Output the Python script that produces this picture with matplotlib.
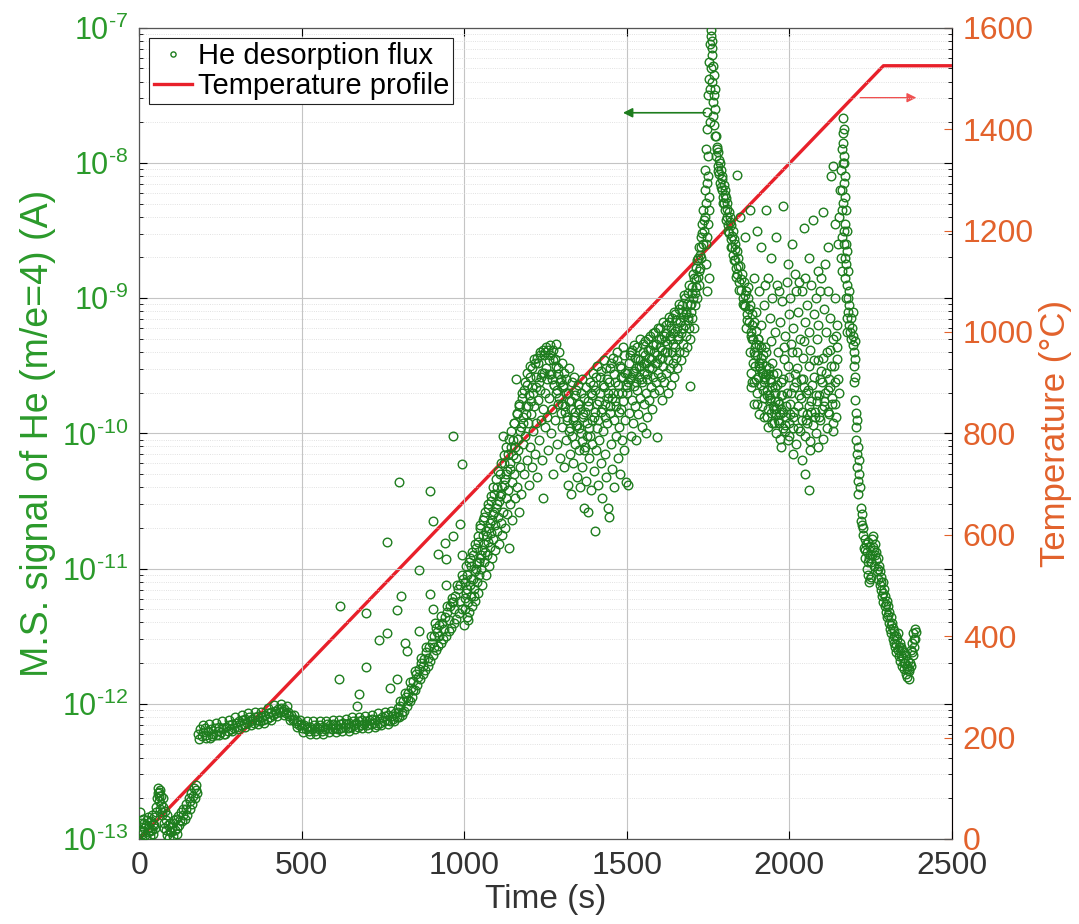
import numpy as np
import matplotlib
matplotlib.use("Agg")
import matplotlib.pyplot as plt
from matplotlib.ticker import LogLocator, NullFormatter, MultipleLocator, FuncFormatter

plt.rcParams['font.family'] = ['Liberation Sans', 'DejaVu Sans']
plt.rcParams['mathtext.fontset'] = 'custom'
plt.rcParams['mathtext.rm'] = 'Liberation Sans'
plt.rcParams['mathtext.default'] = 'regular'
plt.rcParams['axes.unicode_minus'] = False

# He desorption flux: time (s) and log10 of signal (A)
# start-up noise near the 1e-13 floor
t_start = [2, 5, 8, 11, 14, 17, 20, 23, 26, 29, 32, 35, 38, 41, 44, 47, 50, 53, 56, 58,
           60, 62, 64, 66, 68, 70, 72, 75, 78, 81, 84, 87, 90, 93, 96, 99, 102, 105, 108, 111,
           114, 117, 120, 124, 128, 132, 136, 140, 144, 148, 152, 156, 160, 164, 168, 172, 176, 179,
           4, 10, 16, 22, 28, 34, 40, 46, 52, 57, 61, 65, 69, 73, 77, 85, 95, 105, 115, 125,
           135, 145, 155, 165, 175]
v_start = [-12.93, -12.88, -12.96, -12.85, -12.92, -12.97, -12.90, -12.86, -12.95, -12.91,
           -12.98, -12.87, -12.93, -12.89, -12.96, -12.84, -12.92, -12.80, -12.70, -12.66,
           -12.72, -12.65, -12.78, -12.68, -12.74, -12.82, -12.70, -12.88, -12.79, -12.93,
           -12.86, -12.97, -12.90, -12.99, -12.88, -12.95, -12.91, -12.98, -12.86, -12.93,
           -12.85, -12.96, -12.83, -12.90, -12.80, -12.87, -12.78, -12.85, -12.74, -12.82,
           -12.70, -12.78, -12.66, -12.74, -12.62, -12.70, -12.60, -12.66,
           -12.80, -12.95, -12.88, -12.99, -12.84, -12.94, -12.82, -12.90, -12.76, -12.62,
           -12.68, -12.64, -12.80, -12.76, -12.92, -12.82, -12.94, -12.88, -12.92, -12.86,
           -12.82, -12.78, -12.72, -12.68, -12.64]

# plateau band 180-800 s
t_plateau = [182, 187, 192, 197, 202, 207, 212, 217, 222, 227, 232, 237, 242, 247, 252, 257,
             262, 267, 272, 277, 282, 287, 292, 297, 302, 307, 312, 317, 322, 327, 332, 337,
             342, 347, 352, 357, 362, 367, 372, 377, 382, 387, 392, 397, 402, 407, 412, 417,
             422, 427, 432, 437, 442, 447, 452, 457, 462, 467, 472, 477, 482, 487, 492, 497,
             502, 507, 512, 517, 522, 527, 532, 537, 542, 547, 552, 557, 562, 567, 572, 577,
             582, 587, 592, 597, 602, 607, 612, 617, 622, 627, 632, 637, 642, 647, 652, 657,
             662, 667, 672, 677, 682, 687, 692, 697, 702, 707, 712, 717, 722, 727, 732, 737,
             742, 747, 752, 757, 762, 767, 772, 777, 782, 787, 792, 797,
             185, 195, 205, 215, 225, 235, 245, 255, 265, 275, 285, 295, 305, 315, 325, 335,
             345, 355, 365, 375, 385, 395, 405, 415, 425, 435, 445, 455, 465, 475, 485, 495,
             505, 515, 525, 535, 545, 555, 565, 575, 585, 595, 605, 615, 625, 635, 645, 655,
             665, 675, 685, 695, 705, 715, 725, 735, 745, 755, 765, 775, 785, 795]
v_plateau = [-12.22, -12.19, -12.24, -12.21, -12.18, -12.23, -12.20, -12.25, -12.19, -12.22,
             -12.18, -12.23, -12.20, -12.17, -12.21, -12.18, -12.22, -12.17, -12.20, -12.16,
             -12.19, -12.15, -12.18, -12.14, -12.17, -12.13, -12.16, -12.12, -12.15, -12.11,
             -12.14, -12.10, -12.13, -12.11, -12.14, -12.10, -12.12, -12.09, -12.13, -12.10,
             -12.12, -12.08, -12.11, -12.07, -12.10, -12.06, -12.08, -12.05, -12.07, -12.04,
             -12.06, -12.03, -12.05, -12.04, -12.07, -12.06, -12.09, -12.08, -12.12, -12.11,
             -12.14, -12.13, -12.16, -12.15, -12.18, -12.16, -12.19, -12.17, -12.20, -12.17,
             -12.19, -12.16, -12.20, -12.17, -12.19, -12.16, -12.20, -12.17, -12.19, -12.15,
             -12.18, -12.16, -12.19, -12.15, -12.18, -12.16, -12.19, -12.15, -12.18, -12.14,
             -12.17, -12.15, -12.18, -12.14, -12.17, -12.13, -12.16, -12.14, -12.17, -12.13,
             -12.16, -12.12, -12.15, -12.13, -12.16, -12.12, -12.15, -12.11, -12.14, -12.12,
             -12.16, -12.11, -12.14, -12.10, -12.13, -12.09, -12.12, -12.08, -12.13, -12.09,
             -12.11, -12.07, -12.10, -12.06,
             -12.26, -12.16, -12.25, -12.15, -12.24, -12.14, -12.23, -12.13, -12.22, -12.12,
             -12.20, -12.10, -12.19, -12.08, -12.17, -12.07, -12.16, -12.06, -12.15, -12.06,
             -12.14, -12.03, -12.12, -12.01, -12.09, -12.00, -12.08, -12.02, -12.12, -12.08,
             -12.17, -12.12, -12.21, -12.13, -12.22, -12.13, -12.22, -12.13, -12.22, -12.13,
             -12.21, -12.12, -12.21, -12.12, -12.20, -12.11, -12.20, -12.10, -12.19, -12.10,
             -12.18, -12.09, -12.18, -12.08, -12.17, -12.07, -12.16, -12.06, -12.15, -12.05,
             -12.13, -12.03]

# rising band 800-1000 s
t_rise = [800, 804, 808, 812, 816, 820, 824, 828, 832, 836, 840, 844, 848, 852, 856, 860,
          864, 868, 872, 876, 880, 884, 888, 892, 896, 900, 904, 908, 912, 916, 920, 924,
          928, 932, 936, 940, 944, 948, 952, 956, 960, 964, 968, 972, 976, 980, 984, 988,
          992, 996,
          802, 810, 818, 826, 834, 842, 850, 858, 866, 874, 882, 890, 898, 906, 914, 922,
          930, 938, 946, 954, 962, 970, 978, 986, 994]
v_rise = [-12.10, -12.02, -12.08, -11.98, -12.05, -11.95, -12.02, -11.92, -11.98, -11.88,
          -11.95, -11.83, -11.90, -11.78, -11.86, -11.74, -11.82, -11.70, -11.78, -11.67,
          -11.75, -11.62, -11.72, -11.58, -11.68, -11.55, -11.64, -11.50, -11.60, -11.47,
          -11.57, -11.42, -11.55, -11.40, -11.52, -11.36, -11.50, -11.32, -11.46, -11.28,
          -11.44, -11.25, -11.40, -11.20, -11.37, -11.15, -11.33, -11.12, -11.30, -11.08,
          -11.98, -12.06, -11.92, -11.97, -11.84, -11.90, -11.76, -11.80, -11.66, -11.72,
          -11.58, -11.66, -11.50, -11.58, -11.44, -11.50, -11.35, -11.45, -11.28, -11.38,
          -11.22, -11.30, -11.12, -11.24, -11.05]

# isolated points above the band
t_stray = [618, 614, 677, 671, 698, 698, 739, 764, 764, 800, 794, 794, 772, 818, 824, 861,
           861, 806, 895, 904, 895, 919, 944, 944, 904, 993, 987, 966, 941, 993, 966, 910, 965]
v_stray = [-11.28, -11.82, -11.93, -12.02, -11.73, -11.33, -11.53, -11.48, -10.80, -10.36,
           -11.31, -11.82, -11.88, -11.55, -11.61, -11.46, -11.01, -11.20, -10.43, -10.65,
           -11.19, -10.89, -10.93, -11.12, -11.30, -10.23, -10.67, -10.76, -10.81, -10.90,
           -11.25, -11.40, -10.02]

# broad cloud 1000-1500 s
t_cloud = [1000, 1002, 1004, 1006, 1008, 1010, 1012, 1014, 1016, 1018, 1020, 1022, 1024, 1026,
           1028, 1030, 1032, 1034, 1036, 1038, 1040, 1042, 1044, 1046, 1048, 1050, 1052, 1054,
           1056, 1058, 1060, 1062, 1064, 1066, 1068, 1070, 1072, 1074, 1076, 1078, 1080, 1082,
           1084, 1086, 1088, 1090, 1092, 1094, 1096, 1098, 1100, 1102, 1104, 1106, 1108, 1110,
           1112, 1114, 1116, 1118, 1120, 1122, 1124, 1126, 1128, 1130, 1132, 1134, 1136, 1138,
           1140, 1142, 1144, 1146, 1148, 1150, 1152, 1154, 1156, 1158, 1160, 1162, 1164, 1166,
           1168, 1170, 1172, 1174, 1176, 1178, 1180, 1182, 1184, 1186, 1188, 1190, 1192, 1194,
           1196, 1198, 1200, 1202, 1204, 1206, 1208, 1210, 1212, 1214, 1216, 1218, 1220, 1222,
           1224, 1226, 1228, 1230, 1232, 1234, 1236, 1238, 1240, 1242, 1244, 1246, 1248, 1250,
           1252, 1254, 1256, 1258, 1260, 1262, 1264, 1266, 1268, 1270, 1272, 1274, 1276, 1278,
           1280, 1282, 1284, 1286, 1288, 1290, 1292, 1294, 1296, 1298, 1300, 1302, 1304, 1306,
           1308, 1310, 1312, 1314, 1316, 1318, 1320, 1322, 1324, 1326, 1328, 1330, 1332, 1334,
           1336, 1338, 1340, 1342, 1344, 1346, 1348, 1350, 1352, 1354, 1356, 1358, 1360, 1362,
           1364, 1366, 1368, 1370, 1372, 1374, 1376, 1378, 1380, 1382, 1384, 1386, 1388, 1390,
           1392, 1394, 1396, 1398, 1400, 1402, 1404, 1406, 1408, 1410, 1412, 1414, 1416, 1418,
           1420, 1422, 1424, 1426, 1428, 1430, 1432, 1434, 1436, 1438, 1440, 1442, 1444, 1446,
           1448, 1450, 1452, 1454, 1456, 1458, 1460, 1462, 1464, 1466, 1468, 1470, 1472, 1474,
           1476, 1478, 1480, 1482, 1484, 1486, 1488, 1490, 1492, 1494, 1496, 1498, 1500,
           1001, 1005, 1009, 1013, 1017, 1021, 1025, 1029, 1033, 1037, 1041, 1045, 1049, 1053,
           1057, 1061, 1065, 1069, 1073, 1077, 1081, 1085, 1089, 1093, 1097, 1101, 1105, 1109,
           1113, 1117, 1121, 1125, 1129, 1133, 1137, 1141, 1145, 1149, 1153, 1157, 1161, 1165,
           1169, 1173, 1177, 1181, 1185, 1189, 1193, 1197, 1201, 1205, 1209, 1213, 1217, 1221,
           1225, 1229, 1233, 1237, 1241, 1245, 1249, 1253, 1257, 1261, 1265, 1269, 1273, 1277,
           1281, 1285, 1289, 1293, 1297, 1301, 1305, 1309, 1313, 1317, 1321, 1325, 1329, 1333,
           1337, 1341, 1345, 1349, 1353, 1357, 1361, 1365, 1369, 1373, 1377, 1381, 1385, 1389,
           1393, 1397, 1401, 1405, 1409, 1413, 1417, 1421, 1425, 1429, 1433, 1437, 1441, 1445,
           1449, 1453, 1457, 1461, 1465, 1469, 1473, 1477, 1481, 1485, 1489, 1493, 1497]
v_cloud = [-11.42, -11.10, -11.30, -11.18, -11.36, -11.05, -11.25, -10.95, -11.32, -11.12,
           -11.20, -10.98, -11.28, -11.08, -10.90, -11.15, -11.02, -11.24, -10.85, -11.10,
           -10.96, -11.18, -10.80, -11.05, -10.92, -10.70, -11.00, -10.86, -11.12, -10.75,
           -10.95, -10.62, -10.88, -11.05, -10.72, -10.90, -10.55, -10.80, -10.98, -10.66,
           -10.84, -10.50, -10.74, -10.92, -10.60, -10.78, -10.45, -10.68, -10.86, -10.55,
           -10.72, -10.40, -10.62, -10.82, -10.50, -10.30, -10.66, -10.45, -10.75, -10.02,
           -10.58, -10.38, -10.22, -10.70, -10.48, -10.30, -10.60, -10.15, -10.42, -10.85,
           -10.26, -10.52, -10.10, -10.36, -10.64, -10.05, -10.30, -9.92, -10.48, -10.18,
           -9.60, -10.40, -9.85, -10.12, -10.58, -9.78, -10.25, -9.95, -10.45, -9.70,
           -10.08, -9.88, -10.30, -9.62, -10.02, -9.80, -10.20, -9.55, -9.92, -10.38,
           -9.72, -10.10, -9.50, -9.86, -10.25, -9.66, -9.98, -9.45, -9.80, -10.15,
           -9.58, -9.92, -10.32, -9.48, -9.75, -10.05, -9.40, -9.68, -9.90, -10.20,
           -9.55, -9.82, -10.48, -9.42, -9.70, -9.95, -9.36, -9.60, -9.88, -10.12,
           -9.46, -9.74, -9.35, -10.00, -9.56, -9.82, -9.38, -10.30, -9.64, -9.45,
           -9.90, -9.34, -9.70, -10.08, -9.52, -9.78, -9.40, -10.18, -9.62, -9.85,
           -9.48, -9.95, -9.66, -10.25, -9.55, -9.80, -10.05, -9.60, -9.88, -10.38,
           -9.70, -9.98, -9.52, -10.15, -9.76, -10.45, -9.62, -9.90, -10.22, -9.58,
           -9.84, -10.08, -9.68, -10.32, -9.94, -9.64, -10.12, -9.78, -10.40, -9.70,
           -10.00, -9.60, -10.25, -9.86, -10.55, -9.74, -10.10, -9.66, -10.35, -9.92,
           -10.58, -9.80, -10.18, -9.62, -10.02, -10.42, -9.72, -10.08, -9.55, -10.28,
           -9.88, -10.72, -9.68, -10.12, -9.50, -9.96, -10.38, -9.76, -10.05, -9.58,
           -10.22, -9.84, -10.48, -9.64, -9.98, -9.46, -10.15, -9.78, -10.32, -9.60,
           -9.92, -10.55, -9.70, -10.62, -9.85, -9.52, -10.08, -9.74, -10.26, -9.44,
           -9.90, -10.40, -9.62, -10.02, -9.80, -9.40, -10.18, -9.70, -9.95, -9.50,
           -10.30, -9.82, -9.58, -10.05, -9.36, -9.76, -10.12, -9.55, -9.90, -10.36,
           -9.66,
           -11.22, -10.98, -11.15, -11.38, -10.92, -11.08, -10.88, -11.20, -10.82, -11.00,
           -10.76, -10.95, -10.68, -10.90, -10.64, -10.82, -10.58, -10.76, -10.52, -10.70,
           -10.46, -10.64, -10.40, -10.58, -10.34, -10.52, -10.28, -10.46, -10.22, -10.40,
           -10.16, -10.34, -10.10, -10.28, -10.04, -10.22, -9.98, -10.16, -9.92, -10.10,
           -9.86, -10.04, -9.80, -9.98, -9.74, -9.92, -9.68, -9.86, -9.64, -9.80,
           -9.58, -9.76, -9.52, -9.70, -9.48, -9.66, -9.44, -9.62, -9.42, -9.58,
           -9.38, -9.55, -9.40, -9.52, -9.38, -9.56, -9.42, -9.60, -9.46, -9.64,
           -9.50, -9.68, -9.56, -9.74, -9.60, -9.78, -9.64, -9.84, -9.70, -9.90,
           -9.76, -9.96, -9.82, -10.02, -9.88, -9.72, -9.94, -9.78, -9.96, -9.82,
           -10.06, -9.88, -10.12, -9.84, -10.02, -9.76, -9.96, -9.70, -9.90, -9.64,
           -9.84, -9.58, -9.78, -9.90, -9.70, -9.54, -9.82, -9.66, -9.88, -9.52,
           -9.74, -9.62, -9.80, -9.48, -9.70, -9.56, -9.76, -9.46, -9.64, -9.84,
           -9.52, -9.70, -9.58, -9.42, -9.64]

# climb to the main peak 1500-1775 s
t_climb = [1502, 1504, 1506, 1508, 1510, 1512, 1514, 1516, 1518, 1520, 1522, 1524, 1526, 1528,
           1530, 1532, 1534, 1536, 1538, 1540, 1542, 1544, 1546, 1548, 1550, 1552, 1554, 1556,
           1558, 1560, 1562, 1564, 1566, 1568, 1570, 1572, 1574, 1576, 1578, 1580, 1582, 1584,
           1586, 1588, 1590, 1592, 1594, 1596, 1598, 1600, 1602, 1604, 1606, 1608, 1610, 1612,
           1614, 1616, 1618, 1620, 1622, 1624, 1626, 1628, 1630, 1632, 1634, 1636, 1638, 1640,
           1642, 1644, 1646, 1648, 1650, 1652, 1654, 1656, 1658, 1660, 1662, 1664, 1666, 1668,
           1670, 1672, 1674, 1676, 1678, 1680, 1682, 1684, 1686, 1688, 1690, 1692, 1694, 1696,
           1698, 1700, 1702, 1704, 1706, 1708, 1710, 1712, 1714, 1716, 1718, 1720, 1722, 1724,
           1726, 1728, 1730, 1732, 1734, 1736, 1560, 1694,
           1738, 1740, 1741, 1742, 1743, 1744, 1745, 1746, 1747, 1748, 1749, 1750, 1751, 1752,
           1753, 1754, 1755, 1756, 1757, 1758, 1759, 1760, 1761, 1762, 1763, 1764, 1765, 1766,
           1767, 1768, 1769, 1770, 1771, 1772, 1773, 1744, 1748, 1752, 1750, 1754, 1746,
           1501, 1505, 1509, 1513, 1517, 1521, 1525, 1529, 1533, 1537, 1541, 1545, 1549, 1553,
           1557, 1561, 1565, 1569, 1573, 1577, 1581, 1585, 1589, 1593, 1597, 1601, 1605, 1609,
           1613, 1617, 1621, 1625, 1629, 1633, 1637, 1641, 1645, 1649, 1653, 1657, 1661, 1665,
           1669, 1673, 1677, 1681, 1685, 1689, 1693, 1697, 1701, 1705, 1709, 1713, 1717, 1721,
           1725, 1729, 1733, 1737]
v_climb = [-9.70, -10.38, -9.48, -9.85, -9.60, -10.02, -9.40, -9.75, -9.55, -9.92,
           -9.65, -9.35, -9.80, -9.52, -10.05, -9.68, -9.45, -9.86, -9.58, -9.30,
           -9.74, -9.50, -9.95, -9.62, -9.40, -9.78, -9.55, -9.32, -9.70, -9.48,
           -9.88, -9.60, -9.38, -9.75, -9.52, -9.28, -9.66, -9.45, -9.82, -9.58,
           -9.35, -9.70, -9.48, -9.25, -9.62, -10.03, -9.42, -9.55, -9.30, -9.68,
           -9.45, -9.22, -9.58, -9.38, -9.75, -9.50, -9.28, -9.62, -9.40, -9.20,
           -9.55, -9.34, -9.70, -9.46, -9.18, -9.52, -9.30, -9.64, -9.40, -9.15,
           -9.48, -9.26, -9.58, -9.36, -9.12, -9.44, -9.22, -9.52, -9.30, -9.08,
           -9.40, -9.18, -9.46, -9.26, -9.05, -9.34, -9.14, -9.40, -9.20, -9.00,
           -9.28, -9.10, -9.36, -9.16, -8.96, -9.22, -9.05, -9.30, -9.10, -8.92,
           -9.15, -9.00, -9.22, -8.85, -9.05, -8.92, -8.78, -9.00, -8.84, -8.70,
           -8.90, -8.62, -8.78, -8.55, -8.70, -8.45, -8.60, -8.35, -10.00, -9.65,
           -8.50, -8.20, -8.40, -8.05, -8.60, -7.90, -8.30, -7.75, -8.15, -7.62,
           -8.45, -7.50, -7.95, -7.38, -8.25, -7.25, -7.70, -7.12, -7.45, -7.02,
           -7.30, -7.06, -7.20, -7.10, -7.40, -7.15, -7.55, -7.28, -7.65, -7.35,
           -7.50, -7.72, -7.45, -7.80, -7.60, -8.75, -8.55, -8.85, -8.10, -8.35,
           -8.95,
           -9.55, -9.62, -9.42, -9.58, -9.38, -9.54, -9.44, -9.62, -9.36, -9.50,
           -9.46, -9.60, -9.34, -9.48, -9.42, -9.56, -9.30, -9.44, -9.38, -9.52,
           -9.26, -9.40, -9.34, -9.48, -9.22, -9.36, -9.30, -9.44, -9.18, -9.32,
           -9.26, -9.40, -9.14, -9.28, -9.22, -9.34, -9.10, -9.24, -9.16, -9.28,
           -9.04, -9.18, -9.10, -9.22, -8.98, -9.12, -9.04, -9.14, -8.90, -9.04,
           -8.96, -8.82, -8.96, -8.86, -8.72, -8.80, -8.68, -8.62, -8.52, -8.42]

# decay after the main peak 1774-2000 s
t_decay = [1774, 1776, 1778, 1780, 1782, 1784, 1786, 1788, 1790, 1792, 1794, 1796, 1798, 1800,
           1802, 1804, 1806, 1808, 1810, 1812, 1814, 1816, 1818, 1820, 1822, 1824, 1826, 1828,
           1830, 1832, 1834, 1836, 1838, 1840, 1843, 1846, 1849, 1852, 1855, 1858, 1861, 1864,
           1867, 1870, 1873, 1876, 1879, 1882, 1885, 1888, 1891, 1894, 1897, 1900, 1904, 1908,
           1912, 1916, 1920, 1924, 1928, 1932, 1936, 1940, 1945, 1950, 1955, 1960, 1965, 1970,
           1975, 1980, 1990, 2000,
           1777, 1781, 1785, 1789, 1793, 1797, 1801, 1805, 1809, 1813, 1817, 1821, 1825, 1829,
           1833, 1837, 1841, 1845, 1851, 1857, 1863, 1869, 1875, 1881, 1887, 1893, 1899, 1906,
           1914, 1922, 1930, 1938, 1946, 1954]
v_decay = [-7.80, -7.95, -7.88, -8.02, -7.92, -8.08, -8.00, -8.15, -8.05, -8.20,
           -8.12, -8.25, -8.16, -8.30, -8.20, -8.35, -8.26, -8.40, -8.30, -8.46,
           -8.36, -8.52, -8.40, -8.56, -8.46, -8.62, -8.50, -8.68, -8.56, -8.72,
           -8.60, -8.78, -8.65, -8.82, -8.70, -8.88, -8.76, -8.94, -8.82, -9.00,
           -8.88, -9.06, -8.95, -9.12, -9.00, -9.18, -9.05, -9.25, -9.12, -9.30,
           -9.18, -9.36, -9.24, -9.42, -9.30, -9.48, -9.36, -9.55, -9.42, -9.62,
           -9.50, -9.68, -9.56, -9.75, -9.62, -9.80, -9.70, -9.86, -9.76, -9.92,
           -9.82, -9.96, -9.88, -10.02,
           -7.90, -8.06, -7.98, -8.18, -8.10, -8.30, -8.24, -8.42, -8.34, -8.50,
           -8.44, -8.62, -8.54, -8.72, -8.64, -8.84, -8.76, -8.94, -8.86, -9.04,
           -8.98, -9.16, -9.08, -9.28, -9.20, -9.40, -9.34, -9.50, -9.44, -9.60,
           -9.56, -9.72, -9.66, -9.82]

# scattered cloud 1830-2155 s
t_scatter = [1838, 1850, 1865, 1880, 1900, 1912, 1930, 1945, 1960, 1982, 1995, 2010, 2030, 2045,
             2060, 2074, 2088, 2105, 2118, 2130, 2135, 2140, 1925, 1970, 2020, 2095, 2110, 2050,
             1862, 1868, 1874, 1886, 1892, 1898, 1906, 1914, 1922, 1934, 1940, 1948, 1956, 1964,
             1972, 1978, 1986, 1992, 1998, 2004, 2012, 2018, 2026, 2032, 2040, 2048, 2054, 2062,
             2068, 2076, 2082, 2090, 2098, 2106, 2114, 2120, 2126, 2134, 2142, 2148,
             1880, 1884, 1888, 1892, 1896, 1900, 1904, 1908, 1912, 1916, 1920, 1924, 1928, 1932,
             1936, 1940, 1944, 1948, 1952, 1956, 1960, 1964, 1968, 1972, 1976, 1980, 1984, 1988,
             1992, 1996, 2000, 2004, 2008, 2012, 2016, 2020, 2024, 2028, 2032, 2036, 2040, 2044,
             2048, 2052, 2056, 2060, 2064, 2068, 2072, 2076, 2080, 2084, 2088, 2092, 2096, 2100,
             2104, 2108, 2112, 2116, 2120, 2124, 2128, 2132, 2136, 2140, 2144, 2148, 2152,
             1886, 1894, 1902, 1910, 1918, 1926, 1934, 1942, 1950, 1958, 1966, 1974, 1982, 1990,
             1998, 2006, 2014, 2022, 2030, 2038, 2046, 2054, 2062, 2070, 2078, 2086, 2094, 2102,
             2110, 2118, 2126, 2134, 2142, 2150, 2012, 2040, 2065, 2090, 2050, 2060, 1975,
             1883, 1891, 1899, 1907, 1915, 1923, 1931, 1939, 1947, 1955, 1963, 1971, 1979, 1987,
             1995, 2003, 2011, 2019, 2027, 2035, 2043, 2051, 2059, 2067, 2075, 2083, 2091, 2099,
             2107, 2115, 2123, 2131, 2139, 2147, 1905, 1925, 1945, 1965, 1985, 2005, 2025, 2045,
             2065, 2085, 2105, 2125, 2145]
v_scatter = [-8.09, -8.40, -8.55, -8.35, -8.50, -8.62, -8.35, -8.70, -8.55, -8.32,
             -8.75, -8.60, -8.88, -8.48, -8.70, -8.42, -8.80, -8.36, -8.62, -8.10,
             -8.02, -8.45, -8.90, -8.95, -8.95, -8.95, -8.75, -8.85,
             -9.05, -9.22, -8.92, -9.30, -8.85, -9.10, -8.95, -9.20, -9.05, -8.85,
             -9.15, -9.00, -9.25, -8.90, -9.18, -9.02, -9.28, -8.88, -9.12, -9.00,
             -9.22, -8.82, -9.10, -9.30, -8.95, -9.18, -9.05, -9.25, -8.90, -9.12,
             -9.00, -9.20, -8.85, -9.08, -9.25, -8.95, -9.15, -9.30, -9.00, -9.20,
             -9.40, -9.55, -9.48, -9.62, -9.50, -9.70, -9.58, -9.35, -9.64, -9.80,
             -9.55, -9.88, -9.40, -9.72, -9.95, -9.60, -9.85, -9.48, -9.92, -9.66,
             -10.00, -9.55, -9.78, -10.04, -9.62, -9.84, -9.45, -9.98, -9.70, -10.05,
             -9.58, -9.86, -9.40, -9.96, -9.66, -10.08, -9.52, -9.80, -9.98, -9.60,
             -9.90, -9.44, -10.02, -9.70, -9.86, -9.50, -10.06, -9.76, -9.94, -9.58,
             -9.84, -10.00, -9.46, -9.72, -9.90, -9.62, -10.04, -9.80, -9.55, -9.96,
             -9.68, -9.86, -9.50, -9.78, -9.98, -9.62, -9.88, -9.45, -9.70,
             -9.62, -9.42, -9.78, -9.52, -9.68, -9.58, -9.82, -9.74, -9.56, -9.82,
             -9.90, -9.72, -9.60, -9.80, -9.92, -9.70, -9.84, -9.62, -9.72, -9.84,
             -9.66, -9.92, -9.80, -9.64, -9.88, -9.76, -9.60, -9.82, -9.70, -9.84,
             -9.66, -9.92, -9.78, -9.60, -10.15, -10.20, -10.12, -10.10, -10.30, -10.42,
             -10.10,
             -9.66, -9.78, -9.60, -9.86, -9.48, -9.74, -9.88, -9.52, -9.92, -9.76,
             -9.64, -9.86, -9.72, -9.94, -9.50, -9.78, -9.88, -9.56, -9.96, -9.74,
             -9.60, -9.90, -9.68, -9.84, -9.46, -9.72, -9.88, -9.54, -9.76, -9.40,
             -9.60, -9.74, -9.50, -9.36, -9.30, -9.36, -9.32, -9.40, -9.36, -9.34,
             -9.40, -9.32, -9.38, -9.30, -9.44, -9.38, -9.28]

# second peak and tail 2150-2390 s
t_tail = [2150, 2153, 2156, 2158, 2160, 2162, 2164, 2165, 2166, 2167, 2168, 2169, 2170, 2171,
          2172, 2173, 2174, 2175, 2176, 2177, 2178, 2179, 2180, 2181, 2182, 2183, 2184, 2185,
          2187, 2189, 2191, 2193, 2195, 2197, 2199, 2201, 2203,
          2161, 2163, 2165, 2167, 2169, 2171, 2173, 2175, 2177, 2179, 2163, 2168, 2170,
          2196, 2198, 2200, 2202, 2204, 2205, 2206, 2207, 2208, 2209, 2210, 2211, 2212, 2213, 2214,
          2216, 2218, 2220, 2222, 2224, 2226, 2228, 2230, 2232, 2234, 2236, 2238, 2240, 2242,
          2244, 2246, 2248, 2250, 2252, 2254, 2256, 2258, 2260, 2262, 2264, 2266, 2268, 2270,
          2272, 2274, 2276, 2278, 2280, 2282, 2284, 2286, 2288, 2290, 2292, 2294, 2296, 2298,
          2300, 2302, 2304, 2306, 2308, 2310, 2312, 2314, 2316, 2318, 2320, 2322, 2324, 2326,
          2328, 2330, 2332, 2334, 2336, 2338, 2340, 2342, 2344, 2346, 2348, 2350, 2352, 2354,
          2356, 2358, 2360, 2362, 2364, 2366, 2368, 2370, 2372, 2374, 2376, 2378, 2380, 2382,
          2384, 2386, 2388, 2390,
          2225, 2233, 2241, 2249, 2257, 2265, 2273, 2281, 2289, 2297, 2305, 2313, 2321, 2329,
          2337, 2345, 2353, 2361, 2369, 2377, 2385, 2247, 2251]
v_tail = [-8.60, -8.40, -8.20, -8.70, -8.05, -8.35, -7.90, -7.78, -7.67, -7.85,
          -8.00, -8.15, -7.95, -8.25, -8.45, -8.10, -8.60, -8.35, -8.75, -8.50,
          -8.90, -8.65, -9.00, -8.80, -9.10, -8.95, -9.20, -9.05, -9.25, -9.15,
          -9.30, -9.22, -9.35, -9.28, -9.40, -9.32, -9.45,
          -8.55, -8.20, -8.00, -8.30, -8.50, -8.70, -8.85, -9.00, -9.15, -9.25,
          -8.80, -7.75, -8.60,
          -9.10, -9.50, -9.62, -9.75, -9.58, -9.85, -9.95, -10.05, -9.90, -10.15,
          -10.25, -10.10, -10.35, -10.45, -10.30,
          -10.20, -10.40, -10.55, -10.65, -10.60, -10.75, -10.70, -10.85, -10.78, -10.92,
          -10.82, -11.00, -10.88, -10.80, -11.05, -10.92, -11.08, -10.84, -10.95, -10.78,
          -10.90, -10.76, -10.86, -10.98, -10.82, -10.94, -10.88, -11.02, -10.92, -11.08,
          -10.98, -11.12, -11.02, -11.16, -11.06, -11.20, -11.10, -11.25, -11.15, -11.28,
          -11.20, -11.32, -11.24, -11.36, -11.28, -11.40, -11.32, -11.45, -11.36, -11.48,
          -11.40, -11.52, -11.44, -11.55, -11.46, -11.58, -11.50, -11.62, -11.52, -11.60,
          -11.48, -11.65, -11.55, -11.68, -11.58, -11.72, -11.60, -11.66, -11.74, -11.62,
          -11.70, -11.78, -11.64, -11.74, -11.80, -11.68, -11.76, -11.82, -11.70, -11.60,
          -11.72, -11.55, -11.64, -11.48, -11.58, -11.45, -11.52, -11.47,
          -10.68, -10.86, -10.95, -10.90, -10.84, -10.90, -11.00, -11.10, -11.18, -11.26,
          -11.34, -11.42, -11.50, -11.56, -11.58, -11.64, -11.70, -11.72, -11.74, -11.62,
          -11.52, -11.10, -11.06]

# temperature programme (°C)
temp_t = [0, 2290, 2500]
temp_v = [0, 1525, 1525]

green = '#1e7d1e'
green_txt = '#2b9a2b'
orange = '#e2622c'
red = '#e8202a'

t_all = t_start + t_plateau + t_rise + t_stray + t_cloud + t_climb + t_decay + t_scatter + t_tail
v_all = v_start + v_plateau + v_rise + v_stray + v_cloud + v_climb + v_decay + v_scatter + v_tail
he_flux = 10.0 ** np.array(v_all)

fig = plt.figure(figsize=(10.79, 9.24), dpi=100)
ax = fig.add_axes([0.129, 0.092, 0.753, 0.878])
ax2 = ax.twinx()

l1, = ax.plot(t_all, he_flux, 'o', mfc='none', mec=green, ms=6.2, mew=1.0,
              label='He desorption flux', zorder=3)
ax.set_yscale('log')
ax.set_ylim(1e-13, 1e-7)
ax.set_xlim(0, 2500)
ax.xaxis.set_major_locator(MultipleLocator(500))
ax.yaxis.set_major_locator(LogLocator(base=10, numticks=10))
ax.yaxis.set_major_formatter(FuncFormatter(
    lambda y, pos: r'$10^{\text{-%d}}$' % int(round(-np.log10(y)))))
ax.yaxis.set_minor_locator(LogLocator(base=10, subs=np.arange(2, 10), numticks=20))
ax.yaxis.set_minor_formatter(NullFormatter())

ax.grid(True, which='major', color='#c4c4c4', lw=0.8)
ax.grid(True, which='minor', axis='y', color='#d8d8d8', lw=0.6, ls=':')

ax.tick_params(axis='both', which='both', direction='in', top=True, right=True)
ax.tick_params(axis='y', which='major', length=6, labelsize=22, labelcolor=green_txt, pad=8)
ax.tick_params(axis='y', which='minor', length=3)
ax.tick_params(axis='x', length=6, labelsize=23, labelcolor='#333333', pad=9)
ax.set_xlabel('Time (s)', fontsize=24, color='#333333', labelpad=2)
ax.set_ylabel('M.S. signal of He (m/e=4) (A)', fontsize=27, color=green_txt, labelpad=4)
for s in ['left', 'bottom', 'top']:
    ax.spines[s].set_color('#555555')

l2, = ax2.plot(temp_t, temp_v, color=red, lw=2.4, label='Temperature profile')
ax2.set_ylim(0, 1600)
ax2.yaxis.set_major_locator(MultipleLocator(200))
ax2.tick_params(axis='y', direction='in', length=6, color=orange, labelsize=23,
                labelcolor=orange, pad=8)
ax2.spines['right'].set_color('#f07070')
ax2.set_ylabel('Temperature (°C)', fontsize=25, color=orange, labelpad=4)

ax.set_zorder(ax2.get_zorder() + 1)
ax.patch.set_visible(False)

# arrows pointing to each axis
ax.annotate('', xy=(1480, 2.35e-8), xytext=(1750, 2.35e-8),
            arrowprops=dict(arrowstyle='-|>', color=green, lw=1.2, mutation_scale=14))
ax2.annotate('', xy=(2400, 1462), xytext=(2210, 1462),
             arrowprops=dict(arrowstyle='-|>', color='#f05050', lw=1.0, mutation_scale=14))

leg = ax.legend([l1, l2], ['He desorption flux', 'Temperature profile'], loc='upper left',
                fontsize=21, frameon=True, fancybox=False, edgecolor='#222222',
                borderpad=0.15, labelspacing=0.05, handlelength=1.3, handletextpad=0.2,
                borderaxespad=0.35, markerscale=0.6)
leg.get_frame().set_linewidth(0.8)
leg.get_frame().set_alpha(1)

fig.savefig('out.png', dpi=100)
